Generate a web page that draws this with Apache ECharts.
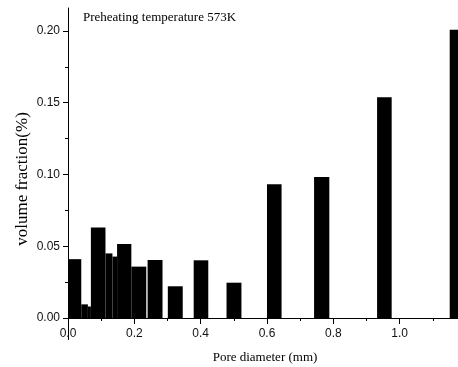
<!DOCTYPE html>
<html>
<head>
<meta charset="utf-8">
<script src="https://cdn.jsdelivr.net/npm/echarts@6/dist/echarts.min.js"></script>
<style>html,body{margin:0;padding:0;background:#fff;}#c{width:458px;height:367px;}</style>
</head>
<body>
<div id="c"></div>
<script>
// Bin edges (mm) and volume fraction values
var binStart = [0.000, 0.040, 0.060, 0.069, 0.113, 0.134, 0.148, 0.191, 0.240, 0.301, 0.379, 0.478, 0.600, 0.742, 0.932, 1.151];
var binEnd   = [0.040, 0.060, 0.069, 0.113, 0.134, 0.148, 0.191, 0.236, 0.285, 0.346, 0.423, 0.523, 0.644, 0.788, 0.976, 1.195];
var fraction = [0.041, 0.0095, 0.008, 0.063, 0.045, 0.0428, 0.0516, 0.0358, 0.0404, 0.0221, 0.0402, 0.0246, 0.0932, 0.0983, 0.1539, 0.2008];

var xMajorTicks = [0.0, 0.2, 0.4, 0.6, 0.8, 1.0];
var xMinorTicks = [0.1, 0.3, 0.5, 0.7, 0.9, 1.1];
var yMajorTicks = [0.00, 0.05, 0.10, 0.15, 0.20];
var yMinorTicks = [0.025, 0.075, 0.125, 0.175];

var titleText = 'Preheating temperature 573K';
var xName = 'Pore diameter (mm)';
var yName = 'volume fraction(%)';

var data = binStart.map(function (s, i) { return [s, binEnd[i], fraction[i]]; });

var chart = echarts.init(document.getElementById('c'), null, {renderer: 'canvas'});
var axisCol = '#000';
var labelFont = {fontFamily: 'Liberation Sans, Arial, sans-serif', fontSize: 12, color: '#111'};
var xMin = 0, xMax = 1.176, yMin = 0, yMax = 0.216;

chart.setOption({
  animation: false,
  grid: {left: 68, right: 0, top: 8, bottom: 49, containLabel: false},
  xAxis: [
    {
      type: 'value', min: xMin, max: xMax, position: 'bottom',
      axisLine: {show: true, lineStyle: {color: axisCol, width: 1}},
      axisTick: {show: true, length: 6, lineStyle: {color: axisCol}, customValues: xMajorTicks},
      axisLabel: Object.assign({margin: 10, customValues: xMajorTicks, formatter: function (v) { return v.toFixed(1); }}, labelFont),
      splitLine: {show: false}
    },
    {
      type: 'value', min: xMin, max: xMax, position: 'bottom', gridIndex: 0,
      axisLine: {show: false},
      axisTick: {show: true, length: 3, lineStyle: {color: axisCol}, customValues: xMinorTicks},
      axisLabel: {show: false},
      splitLine: {show: false}
    },
    {
      type: 'value', min: xMin, max: xMax, position: 'bottom', gridIndex: 0,
      axisLine: {show: false},
      axisTick: {show: true, length: 22, lineStyle: {color: axisCol}, customValues: [xMin]},
      axisLabel: {show: false},
      splitLine: {show: false}
    }
  ],
  yAxis: [
    {
      type: 'value', min: yMin, max: yMax, position: 'left',
      axisLine: {show: true, lineStyle: {color: axisCol, width: 1}},
      axisTick: {show: true, length: 5, lineStyle: {color: axisCol}, customValues: yMajorTicks},
      axisLabel: Object.assign({margin: 8, customValues: yMajorTicks, formatter: function (v) { return v.toFixed(2); }}, labelFont),
      splitLine: {show: false}
    },
    {
      type: 'value', min: yMin, max: yMax, position: 'left',
      axisLine: {show: false},
      axisTick: {show: true, length: 3, lineStyle: {color: axisCol}, customValues: yMinorTicks},
      axisLabel: {show: false},
      splitLine: {show: false}
    }
  ],
  series: [{
    type: 'custom',
    xAxisIndex: 0, yAxisIndex: 0,
    clip: true,
    data: data,
    renderItem: function (params, api) {
      var p0 = api.coord([api.value(0), api.value(2)]);
      var p1 = api.coord([api.value(1), 0]);
      return {
        type: 'rect',
        shape: {x: p0[0], y: p0[1], width: p1[0] - p0[0], height: p1[1] - p0[1]},
        style: {fill: '#000'}
      };
    }
  }],
  graphic: [
    {type: 'text', x: 83, y: 18, style: {text: titleText, font: '13px "Liberation Serif", "Times New Roman", serif', fill: '#000', verticalAlign: 'middle', align: 'left'}},
    {type: 'text', x: 265, y: 358, style: {text: xName, font: '13px "Liberation Serif", "Times New Roman", serif', fill: '#000', verticalAlign: 'middle', align: 'center'}},
    {type: 'text', x: 23, y: 179, rotation: Math.PI / 2, style: {text: yName, font: '17px "Liberation Serif", "Times New Roman", serif', fill: '#000', verticalAlign: 'middle', align: 'center'}}
  ]
});
</script>
</body>
</html>
